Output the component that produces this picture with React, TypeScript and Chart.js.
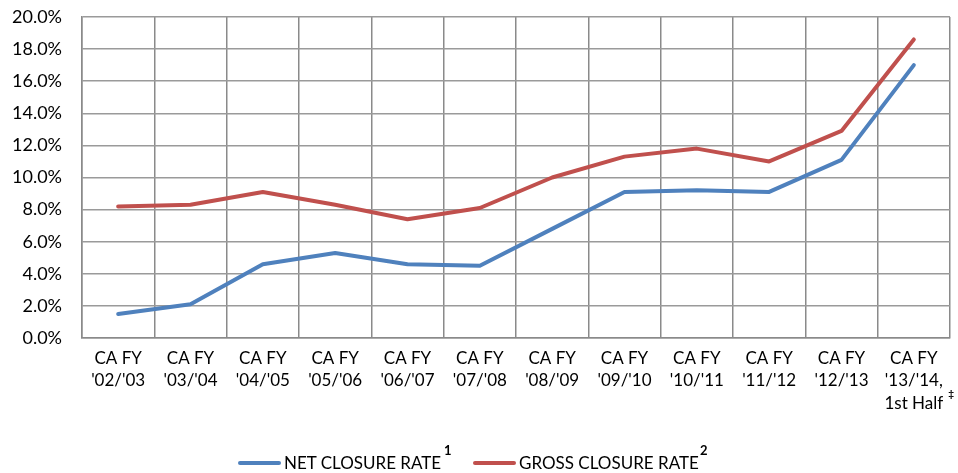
import React, { useEffect, useRef } from "react";
import { Chart, registerables } from "chart.js";

Chart.register(...registerables);

const categories: string[][] = [
  ["CA FY", "'02/'03"],
  ["CA FY", "'03/'04"],
  ["CA FY", "'04/'05"],
  ["CA FY", "'05/'06"],
  ["CA FY", "'06/'07"],
  ["CA FY", "'07/'08"],
  ["CA FY", "'08/'09"],
  ["CA FY", "'09/'10"],
  ["CA FY", "'10/'11"],
  ["CA FY", "'11/'12"],
  ["CA FY", "'12/'13"],
  ["CA FY", "'13/'14,", "1st Half"],
];

const netClosureRate: number[] = [1.5, 2.1, 4.6, 5.3, 4.6, 4.5, 6.8, 9.1, 9.2, 9.1, 11.1, 17.0];
const grossClosureRate: number[] = [8.2, 8.3, 9.1, 8.3, 7.4, 8.1, 10.0, 11.3, 11.8, 11.0, 12.9, 18.6];

const seriesNames = ["NET CLOSURE RATE", "GROSS CLOSURE RATE"];
const seriesNotes = ["1", "2"];
const lastLabelNote = "‡";

const BLUE = "#4F81BD";
const RED = "#C0504D";
const FONT = "Lato, 'Open Sans', sans-serif";

const notePlugin = {
  id: "lastLabelNote",
  afterDraw(chart: any) {
    const xs = chart.scales.x;
    const ctx = chart.ctx;
    const i = categories.length - 1;
    const x = xs.getPixelForTick(i);
    ctx.save();
    ctx.font = `17px ${FONT}`;
    const w = ctx.measureText(categories[i][2]).width;
    ctx.font = `bold 10px ${FONT}`;
    ctx.fillStyle = "#000";
    ctx.textAlign = "left";
    ctx.textBaseline = "middle";
    ctx.fillText(lastLabelNote, x + w / 2 + 5, xs.top + 9 + 22.5 * 2 + 2);
    ctx.restore();
  },
};

export default function App() {
  const ref = useRef<HTMLCanvasElement>(null);
  useEffect(() => {
    if (!ref.current) return;
    const chart = new Chart(ref.current, {
      type: "line",
      data: {
        labels: categories,
        datasets: [
          {
            label: seriesNames[0],
            data: netClosureRate,
            borderColor: BLUE,
            backgroundColor: BLUE,
            borderWidth: 4,
            pointRadius: 0,
            tension: 0,
            borderCapStyle: "round",
            borderJoinStyle: "round",
          },
          {
            label: seriesNames[1],
            data: grossClosureRate,
            borderColor: RED,
            backgroundColor: RED,
            borderWidth: 4,
            pointRadius: 0,
            tension: 0,
            borderCapStyle: "round",
            borderJoinStyle: "round",
          },
        ],
      },
      options: {
        animation: false,
        responsive: false,
        layout: { padding: { top: 17, right: 8, left: 0, bottom: 55 } },
        plugins: { legend: { display: false }, tooltip: { enabled: false } },
        scales: {
          x: {
            offset: true,
            grid: { offset: true, color: "#8a8a8a", lineWidth: 1.5, drawTicks: false },
            border: { color: "#8a8a8a", width: 1.5 },
            ticks: {
              color: "#000",
              font: { family: FONT, size: 17, lineHeight: 1.33 },
              padding: 9,
              maxRotation: 0,
              autoSkip: false,
            },
            afterFit: (s: any) => {
              s.height = 80;
              s.paddingLeft = 0;
              s.paddingRight = 0;
            },
          },
          y: {
            min: 0,
            max: 20,
            grid: { color: "#9a9a9a", lineWidth: 1.5, drawTicks: false },
            border: { color: "#8a8a8a", width: 1.5 },
            ticks: {
              stepSize: 2,
              color: "#000",
              font: { family: FONT, size: 18 },
              padding: 20,
              callback: (v: any) => Number(v).toFixed(1) + "%",
            },
            afterFit: (s: any) => {
              s.width = 82;
              s.paddingTop = 0;
              s.paddingBottom = 0;
            },
          },
        },
      },
      plugins: [notePlugin],
    });
    return () => chart.destroy();
  }, []);

  const lineStyle = (left: number, color: string): React.CSSProperties => ({
    position: "absolute",
    left,
    top: 461,
    width: 43,
    height: 4,
    borderRadius: 2,
    background: color,
  });
  const textStyle = (left: number): React.CSSProperties => ({
    position: "absolute",
    left,
    top: 453,
    fontSize: 17,
    lineHeight: "20px",
    whiteSpace: "nowrap",
  });
  const supStyle = (left: number): React.CSSProperties => ({
    position: "absolute",
    left,
    top: 443,
    fontSize: 13,
    fontWeight: "bold",
    lineHeight: "14px",
  });

  return (
    <div style={{ position: "fixed", left: 0, top: 0, width: 958, height: 473, background: "#fff", fontFamily: FONT, color: "#000" }}>
      <canvas ref={ref} width={958} height={473} style={{ display: "block" }} />
      <div style={lineStyle(238, BLUE)} />
      <div style={textStyle(284)}>{seriesNames[0]}</div>
      <div style={supStyle(444)}>{seriesNotes[0]}</div>
      <div style={lineStyle(473, RED)} />
      <div style={textStyle(519)}>{seriesNames[1]}</div>
      <div style={supStyle(700)}>{seriesNotes[1]}</div>
    </div>
  );
}
